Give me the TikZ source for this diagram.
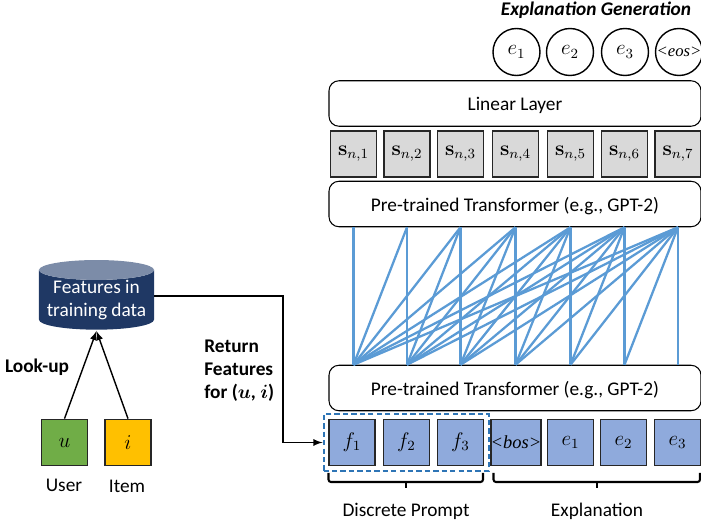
\documentclass[tikz,border=0pt]{standalone}
\usepackage{amsmath}
\usepackage[no-math]{fontspec}
\setmainfont{Carlito}
\newfontfamily\tokenfont{Liberation Serif}
\usetikzlibrary{shapes.geometric,fit}
\definecolor{TokenBlue}{HTML}{8FAADC}
\definecolor{StateGray}{HTML}{D9D9D9}
\definecolor{UserGreen}{HTML}{70AD47}
\definecolor{ItemYellow}{HTML}{FFC000}
\definecolor{AttnBlue}{HTML}{5B9BD5}
\definecolor{PromptBlue}{HTML}{2E75B6}
\definecolor{DbNavy}{HTML}{1F3864}
\definecolor{DbTop}{HTML}{7C8CA8}
\definecolor{NiceBlack}{HTML}{262626}
\tikzset{
  cell/.style={draw=NiceBlack, line width=1pt, minimum size=0.92cm, inner sep=0pt, font=\fontsize{12}{14}\selectfont},
  output/.style={draw=black, line width=0.8pt, circle, minimum size=0.94cm, inner sep=0pt, font=\fontsize{12}{14}\selectfont},
  layer/.style={draw=black, line width=0.6pt, rounded corners=0.2cm, minimum width=7.44cm, minimum height=0.91cm, text depth=0pt},
  attn/.style={AttnBlue, line width=1.3pt},
  link/.style={black, line width=0.8pt, -latex}
}
\begin{document}
\begin{tikzpicture}[font=\fontsize{11}{13}\selectfont]
      \useasboundingbox (0,0) rectangle (14.02,10.56);
      \node[font=\fontsize{11}{13}\selectfont\bfseries\itshape] (title) at (11.92,10.36) {Explanation Generation};
      % Outputs
      \node[output] (o1) at (10.33,9.52) {$e_1$};
      \node[output] (o2) at (11.40,9.52) {$e_2$};
      \node[output] (o3) at (12.50,9.52) {$e_3$};
      \node[output, font=\fontsize{9.5}{12}\tokenfont\itshape] (o4) at (13.58,9.52) {<eos>};
      % Layers
      \node[layer] (linear) at (10.30,8.49) {Linear Layer};
      \node[layer] (upper) at (10.30,6.48) {Pre-trained Transformer (e.g., GPT-2)};
      \node[layer] (lower) at (10.30,2.80) {Pre-trained Transformer (e.g., GPT-2)};
      % Hidden states
      \foreach \x [count=\i] in {7.07,8.14,9.21,10.31,11.41,12.49,13.56}
        \node[cell, fill=StateGray] (s\i) at (\x,7.48) {$\mathbf{s}_{n,\i}$};
      % Attention
      \foreach \j in {1,...,7}
        \foreach \i in {1,...,\j}
          \draw[attn] (s\i |- lower.north) -- (s\j |- upper.south);
      % Tokens
      \node[cell, fill=TokenBlue] (f1) at (7.04,1.71) {$f_1$};
      \node[cell, fill=TokenBlue] (f2) at (8.13,1.71) {$f_2$};
      \node[cell, fill=TokenBlue] (f3) at (9.21,1.71) {$f_3$};
      \node[cell, fill=TokenBlue, font=\fontsize{10.5}{12}\tokenfont\itshape] (bos) at (10.32,1.71) {<bos>};
      \node[cell, fill=TokenBlue] (e1) at (11.41,1.71) {$e_1$};
      \node[cell, fill=TokenBlue] (e2) at (12.47,1.71) {$e_2$};
      \node[cell, fill=TokenBlue] (e3) at (13.55,1.71) {$e_3$};
      \node[draw=PromptBlue, line width=1.2pt, dash pattern=on 3pt off 1.8pt, fit=(f1)(f3), inner sep=0.09cm] (prompt) {};
      % Brackets
      \draw[black, line width=1.2pt, rounded corners=0.05cm] (6.57,1.10) -- (6.57,0.92) -- (9.66,0.92) -- (9.66,1.10);
      \draw[black, line width=1.2pt] (8.12,0.92) -- (8.12,0.80);
      \draw[black, line width=1.2pt, rounded corners=0.05cm] (9.87,1.10) -- (9.87,0.92) -- (14.00,0.92) -- (14.00,1.10);
      \draw[black, line width=1.2pt] (11.94,0.92) -- (11.94,0.80);
      \node (promptlabel) at (8.12,0.34) {Discrete Prompt};
      \node (explabel) at (11.94,0.34) {Explanation};
      % Look-up
      \node[cylinder, shape border rotate=90, aspect=0.2, cylinder uses custom fill, cylinder body fill=DbNavy, cylinder end fill=DbTop, minimum width=2.30cm, minimum height=1.36cm, inner sep=0pt, text=white, align=center] (db) at (1.93,4.56) {Features in\\training data};
      \node[cell, fill=UserGreen] (u) at (1.29,1.71) {$u$};
      \node[cell, fill=ItemYellow] (i) at (2.56,1.71) {$i$};
      \node (userlabel) at (1.28,0.86) {User};
      \node (itemlabel) at (2.54,0.84) {Item};
      \coordinate (dbin) at (1.93,3.94);
      \draw[link] (u.north) -- (dbin);
      \draw[link] (i.north) -- (dbin);
      \node[font=\fontsize{11}{13}\selectfont\bfseries] (lookup) at (0.74,3.22) {Look-up};
      \node[font=\fontsize{11}{13}\selectfont\bfseries, align=left, anchor=west, inner sep=0pt] (ret) at (4.08,3.14) {Return\\Features\\for ($\boldsymbol{u}$, $\boldsymbol{i}$)};
      \coordinate (bend) at (5.66,3);
      \draw[link] (db.east |- 0,4.64) -- (bend |- 0,4.64) -- (bend |- prompt.west) -- (prompt.west);
\end{tikzpicture}
\end{document}
